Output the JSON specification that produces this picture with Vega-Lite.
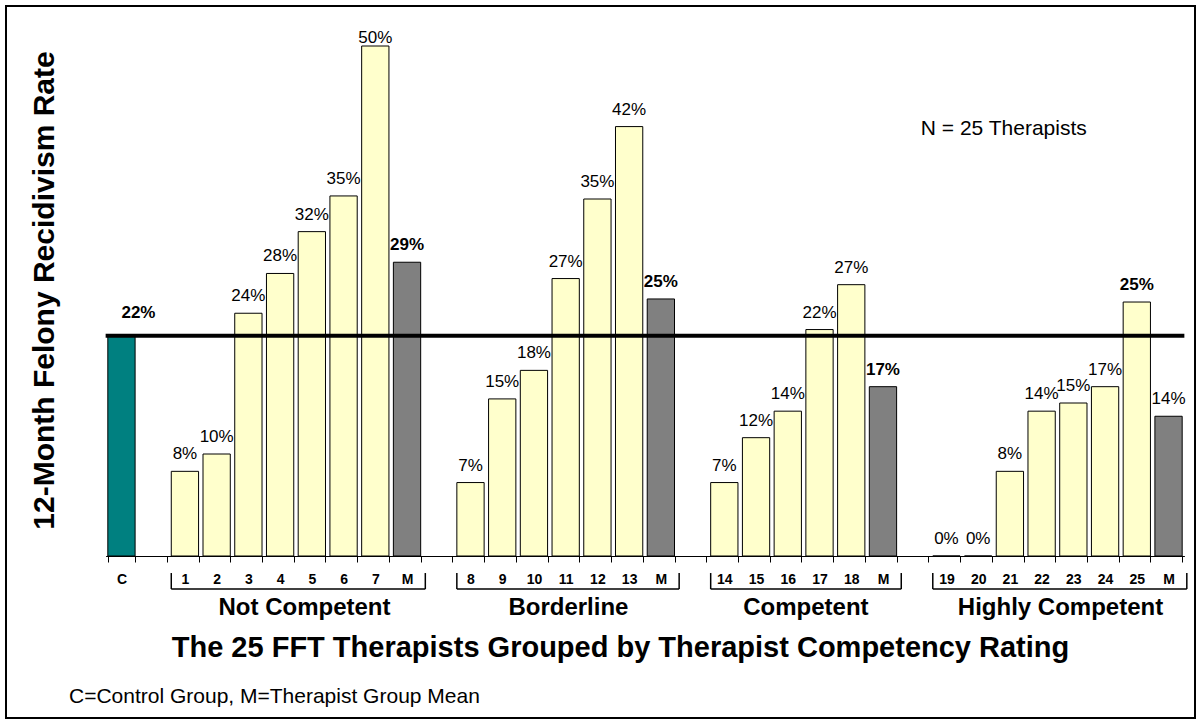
{
  "$schema": "https://vega.github.io/schema/vega-lite/v6.json",
  "width": 1189,
  "height": 712,
  "autosize": {"type": "none"},
  "padding": {"left": 6, "top": 6, "right": 6, "bottom": 6},
  "background": "white",
  "config": {
    "font": "Liberation Sans",
    "view": {"stroke": "black", "strokeWidth": 2},
    "text": {"font": "Liberation Sans", "color": "black"}
  },
  "title": {
    "text": "C=Control Group, M=Therapist Group Mean",
    "orient": "bottom",
    "anchor": "start",
    "frame": "group",
    "offset": -15,
    "dx": 63,
    "baseline": "alphabetic",
    "fontSize": 21,
    "fontWeight": "normal",
    "font": "Liberation Sans",
    "color": "black"
  },
  "datasets": {
    "therapists": [
      {"id": "C", "type": "Control", "value": 0.216},
      {"id": "1", "type": "Therapist", "value": 0.083},
      {"id": "2", "type": "Therapist", "value": 0.100},
      {"id": "3", "type": "Therapist", "value": 0.238},
      {"id": "4", "type": "Therapist", "value": 0.277},
      {"id": "5", "type": "Therapist", "value": 0.318},
      {"id": "6", "type": "Therapist", "value": 0.353},
      {"id": "7", "type": "Therapist", "value": 0.500},
      {"id": "M1", "type": "Mean", "value": 0.288},
      {"id": "8", "type": "Therapist", "value": 0.072},
      {"id": "9", "type": "Therapist", "value": 0.154},
      {"id": "10", "type": "Therapist", "value": 0.182},
      {"id": "11", "type": "Therapist", "value": 0.272},
      {"id": "12", "type": "Therapist", "value": 0.350},
      {"id": "13", "type": "Therapist", "value": 0.421},
      {"id": "M2", "type": "Mean", "value": 0.252},
      {"id": "14", "type": "Therapist", "value": 0.072},
      {"id": "15", "type": "Therapist", "value": 0.116},
      {"id": "16", "type": "Therapist", "value": 0.142},
      {"id": "17", "type": "Therapist", "value": 0.222},
      {"id": "18", "type": "Therapist", "value": 0.266},
      {"id": "M3", "type": "Mean", "value": 0.166},
      {"id": "19", "type": "Therapist", "value": 0},
      {"id": "20", "type": "Therapist", "value": 0},
      {"id": "21", "type": "Therapist", "value": 0.083},
      {"id": "22", "type": "Therapist", "value": 0.142},
      {"id": "23", "type": "Therapist", "value": 0.150},
      {"id": "24", "type": "Therapist", "value": 0.166},
      {"id": "25", "type": "Therapist", "value": 0.249},
      {"id": "M4", "type": "Mean", "value": 0.137}
    ],
    "groups": [
      {"name": "Not Competent", "first": "1", "last": "M1"},
      {"name": "Borderline", "first": "8", "last": "M2"},
      {"name": "Competent", "first": "14", "last": "M3"},
      {"name": "Highly  Competent", "first": "19", "last": "M4"}
    ]
  },
  "layer": [
    {
      "data": {"name": "therapists"},
      "mark": {"type": "bar", "stroke": "black", "strokeWidth": 1},
      "encoding": {
        "x": {
          "field": "id",
          "type": "nominal",
          "sort": null,
          "scale": {
            "domain": ["C", "g0", "1", "2", "3", "4", "5", "6", "7", "M1", "g1", "8", "9", "10", "11", "12", "13", "M2", "g2", "14", "15", "16", "17", "18", "M3", "g3", "19", "20", "21", "22", "23", "24", "25", "M4"],
            "range": [99.6, 1178.4],
            "paddingInner": 0.14,
            "paddingOuter": 0.07
          },
          "axis": {
            "title": "The 25 FFT Therapists Grouped by Therapist Competency Rating",
            "offset": -162,
            "labelExpr": "substring(datum.value, 0, 1) == 'g' ? '' : (substring(datum.value, 0, 1) == 'M' ? 'M' : datum.value)",
            "labelAngle": 0,
            "labelFont": "Liberation Sans",
            "labelFontSize": 14,
            "labelFontWeight": "bold",
            "labelColor": "black",
            "labelPadding": 10,
            "labelOverlap": false,
            "tickBand": "extent",
            "tickSize": 6,
            "tickColor": "black",
            "domainColor": "black",
            "grid": false,
            "titleFont": "Liberation Sans",
            "titleFontSize": 29,
            "titleFontWeight": "bold",
            "titleColor": "black",
            "titleX": 614,
            "titleY": 100,
            "titleAlign": "center",
            "titleBaseline": "alphabetic"
          }
        },
        "y": {
          "field": "value",
          "type": "quantitative",
          "scale": {"domain": [0, 0.525], "range": [550, 14.5], "nice": false, "zero": false},
          "axis": {
            "title": "12-Month Felony Recidivism Rate",
            "domain": false,
            "ticks": false,
            "labels": false,
            "grid": false,
            "titleFont": "Liberation Sans",
            "titleFontSize": 30,
            "titleFontWeight": "bold",
            "titleColor": "black",
            "titleAngle": -90,
            "titleX": 47,
            "titleY": 284,
            "titleAlign": "center",
            "titleBaseline": "alphabetic"
          }
        },
        "fill": {
          "field": "type",
          "type": "nominal",
          "scale": {"domain": ["Control", "Therapist", "Mean"], "range": ["#008080", "#FFFFCC", "#808080"]},
          "legend": null
        }
      }
    },
    {
      "data": {"name": "therapists"},
      "transform": [{"filter": "datum.id == 'C'"}],
      "mark": {"type": "rule", "color": "black", "strokeWidth": 4},
      "encoding": {
        "y": {"field": "value", "type": "quantitative"},
        "x": {"datum": "C", "bandPosition": -0.08},
        "x2": {"datum": "M4", "bandPosition": 1.08}
      }
    },
    {
      "data": {"name": "therapists"},
      "transform": [{"filter": "indexof(['C','M1','M2','M3','25','7'], datum.id) < 0"}],
      "mark": {"type": "text", "baseline": "alphabetic", "dy": -12, "fontSize": 17, "fontWeight": "normal"},
      "encoding": {
        "x": {"field": "id", "type": "nominal"},
        "y": {"field": "value", "type": "quantitative"},
        "text": {"field": "value", "type": "quantitative", "format": ".0%"}
      }
    },
    {
      "data": {"name": "therapists"},
      "transform": [{"filter": "datum.id == '7'"}],
      "mark": {"type": "text", "baseline": "alphabetic", "dy": -3, "fontSize": 17, "fontWeight": "normal"},
      "encoding": {
        "x": {"field": "id", "type": "nominal"},
        "y": {"field": "value", "type": "quantitative"},
        "text": {"field": "value", "type": "quantitative", "format": ".0%"}
      }
    },
    {
      "data": {"name": "therapists"},
      "transform": [{"filter": "indexof(['M1','M2','M3','25'], datum.id) >= 0"}],
      "mark": {"type": "text", "baseline": "alphabetic", "dy": -12, "fontSize": 17, "fontWeight": "bold"},
      "encoding": {
        "x": {"field": "id", "type": "nominal"},
        "y": {"field": "value", "type": "quantitative"},
        "text": {"field": "value", "type": "quantitative", "format": ".0%"}
      }
    },
    {
      "data": {"name": "therapists"},
      "transform": [{"filter": "datum.id == 'C'"}],
      "mark": {"type": "text", "baseline": "alphabetic", "dy": -18, "dx": 17, "fontSize": 17, "fontWeight": "bold"},
      "encoding": {
        "x": {"field": "id", "type": "nominal"},
        "y": {"field": "value", "type": "quantitative"},
        "text": {"field": "value", "type": "quantitative", "format": ".0%"}
      }
    },
    {
      "data": {"name": "groups"},
      "mark": {"type": "rule", "color": "black", "strokeWidth": 1.5},
      "encoding": {
        "x": {"field": "first", "type": "nominal", "bandPosition": 0},
        "x2": {"field": "last", "bandPosition": 1.17},
        "y": {"datum": -0.0324}
      }
    },
    {
      "data": {"name": "groups"},
      "mark": {"type": "rule", "color": "black", "strokeWidth": 1.5},
      "encoding": {
        "x": {"field": "first", "type": "nominal", "bandPosition": 0},
        "y": {"datum": -0.0167},
        "y2": {"datum": -0.0324}
      }
    },
    {
      "data": {"name": "groups"},
      "mark": {"type": "rule", "color": "black", "strokeWidth": 1.5},
      "encoding": {
        "x": {"field": "last", "type": "nominal", "bandPosition": 1.17},
        "y": {"datum": -0.0167},
        "y2": {"datum": -0.0324}
      }
    },
    {
      "data": {"name": "groups"},
      "transform": [{"filter": "datum.name == 'Not Competent'"}],
      "mark": {"type": "text", "baseline": "alphabetic", "align": "center", "fontSize": 24, "fontWeight": "bold"},
      "encoding": {
        "x": {"datum": "5", "bandPosition": 0.23},
        "y": {"datum": -0.0578},
        "text": {"field": "name"}
      }
    },
    {
      "data": {"name": "groups"},
      "transform": [{"filter": "datum.name == 'Borderline'"}],
      "mark": {"type": "text", "baseline": "alphabetic", "align": "center", "fontSize": 24, "fontWeight": "bold"},
      "encoding": {
        "x": {"datum": "11", "bandPosition": 0.6},
        "y": {"datum": -0.0578},
        "text": {"field": "name"}
      }
    },
    {
      "data": {"name": "groups"},
      "transform": [{"filter": "datum.name == 'Competent'"}],
      "mark": {"type": "text", "baseline": "alphabetic", "align": "center", "fontSize": 24, "fontWeight": "bold"},
      "encoding": {
        "x": {"datum": "17", "bandPosition": 0},
        "y": {"datum": -0.0578},
        "text": {"field": "name"}
      }
    },
    {
      "data": {"name": "groups"},
      "transform": [{"filter": "datum.name == 'Highly  Competent'"}],
      "mark": {"type": "text", "baseline": "alphabetic", "align": "center", "fontSize": 24, "fontWeight": "bold"},
      "encoding": {
        "x": {"datum": "23", "bandPosition": 0.03},
        "y": {"datum": -0.0578},
        "text": {"field": "name"}
      }
    },
    {
      "data": {"values": [{"note": "N = 25 Therapists"}]},
      "mark": {"type": "text", "baseline": "alphabetic", "align": "left", "dx": -12, "fontSize": 21, "fontWeight": "normal"},
      "encoding": {
        "x": {"datum": "19", "bandPosition": 0},
        "y": {"datum": 0.4132},
        "text": {"field": "note"}
      }
    }
  ]
}
